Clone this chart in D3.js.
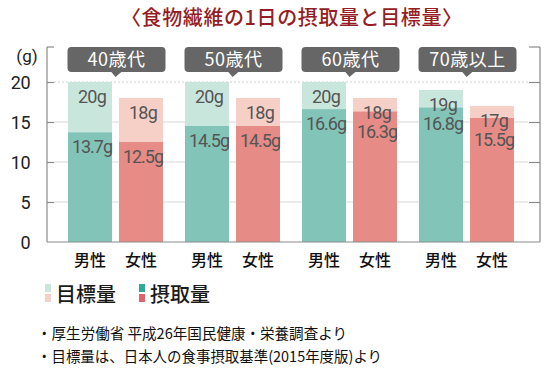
<!DOCTYPE html>
<html><head><meta charset="utf-8">
<script src="https://cdn.jsdelivr.net/npm/d3@7"></script>
<style>
html,body{margin:0;padding:0;background:#fff;}
svg{display:block;}
</style></head>
<body>
<script>
const ageGroups = ["40歳代", "50歳代", "60歳代", "70歳以上"];
const sexes = ["男性", "女性"];
const targetMale = [20, 20, 20, 19];
const targetFemale = [18, 18, 18, 17];
const intakeMale = [13.7, 14.5, 16.6, 16.8];
const intakeFemale = [12.5, 14.5, 16.3, 15.5];
const yTicks = [0, 5, 10, 15, 20];
const titleText = "〈食物繊維の1日の摂取量と目標量〉";
const legendLabels = ["目標量", "摂取量"];
const notes = ["・厚生労働省  平成26年国民健康・栄養調査より", "・目標量は、日本人の食事摂取基準(2015年度版)より"];

const W = 560, H = 373;
const colors = {
  targetM: "#c9e6dc", targetF: "#f6d0c7",
  intakeM: "#82c4b8", intakeF: "#e68b86",
  legIntakeM: "#2fa898", legIntakeF: "#e0636b"
};

const svg = d3.select("body").append("svg").attr("width", W).attr("height", H);

const x0 = d3.scaleBand().domain(ageGroups).range([57, 525]).paddingInner(22/117).paddingOuter(11/117);
const x1 = d3.scaleBand().domain(sexes).range([0, x0.bandwidth()]).paddingInner(7/51);
const y = d3.scaleLinear().domain([0, 20]).range([242, 82]);

const data = [];
ageGroups.forEach((g, i) => {
  data.push({g, s: "男性", target: targetMale[i], intake: intakeMale[i], ct: colors.targetM, ci: colors.intakeM});
  data.push({g, s: "女性", target: targetFemale[i], intake: intakeFemale[i], ct: colors.targetF, ci: colors.intakeF});
});

// title
svg.append("text").attr("x", 121).attr("y", 25)
  .attr("font-family", "'Noto Sans CJK JP'").attr("font-size", 20).attr("font-weight", 500)
  .attr("letter-spacing", 0.6)
  .attr("fill", "#951d24").text(titleText);

// gridlines
const grid = svg.append("g");
yTicks.filter(t => t > 0).forEach(t => {
  grid.append("line").attr("x1", 54).attr("x2", 528).attr("y1", y(t)).attr("y2", y(t))
    .attr("stroke", t === 20 ? "#d0d0d0" : "#d8d8d8").attr("stroke-width", 1)
    .attr("stroke-dasharray", t === 20 ? "2,2" : null);
});

// bars
const bars = svg.append("g");
data.forEach(d => {
  const bx = x0(d.g) + x1(d.s);
  const cx = bx + x1.bandwidth()/2 + 2;
  bars.append("rect").attr("x", bx).attr("width", x1.bandwidth())
    .attr("y", y(d.target)).attr("height", y(0) - y(d.target)).attr("fill", d.ct);
  bars.append("rect").attr("x", bx).attr("width", x1.bandwidth())
    .attr("y", y(d.intake)).attr("height", y(0) - y(d.intake)).attr("fill", d.ci);
  const ty = y(d.target) + 21;
  const iy = Math.max(y(d.intake) + 21, ty + 19);
  bars.append("text").attr("x", cx).attr("y", ty)
    .attr("text-anchor", "middle").attr("font-family", "Roboto").attr("font-size", 18)
    .attr("letter-spacing", -0.8).attr("fill", "#555").text(d.target + "g");
  bars.append("text").attr("x", cx).attr("y", iy)
    .attr("text-anchor", "middle").attr("font-family", "Roboto").attr("font-size", 18)
    .attr("letter-spacing", -1).attr("fill", "#555").text(d.intake + "g");
  svg.append("text").attr("x", bx + x1.bandwidth()/2).attr("y", 266)
    .attr("text-anchor", "middle").attr("font-family", "'Noto Sans CJK JP'").attr("font-size", 16)
    .attr("font-weight", 500).attr("fill", "#111").text(d.s);
});

// axes frame
const axisColor = "#8a8a8a";
const frame = svg.append("g").attr("stroke", axisColor).attr("stroke-width", 1.2).attr("fill", "none");
frame.append("line").attr("x1", 47).attr("x2", 47).attr("y1", 47).attr("y2", y(0));
frame.append("line").attr("x1", 47).attr("x2", 540).attr("y1", y(0)).attr("y2", y(0));
frame.append("line").attr("x1", 540).attr("x2", 540).attr("y1", 47).attr("y2", y(0));
frame.append("line").attr("x1", 47).attr("x2", 54).attr("y1", 47).attr("y2", 47);
frame.append("line").attr("x1", 529).attr("x2", 540).attr("y1", 47).attr("y2", 47);

// left axis ticks + labels via d3 axis
const yAxis = d3.axisLeft(y).tickValues(yTicks).tickSize(-7).tickPadding(17).tickFormat(d3.format("d"));
const ya = svg.append("g").attr("transform", "translate(47,0)").call(yAxis);
ya.select(".domain").remove();
ya.selectAll(".tick line").attr("stroke", axisColor).attr("stroke-width", 1.2);
ya.selectAll(".tick text").attr("font-family", "Roboto").attr("font-size", 18)
  .attr("fill", "#222").attr("dy", "0.36em").attr("letter-spacing", -0.5);
ya.selectAll(".tick").filter(d => d === 0).select("line").remove();

// right ticks
const yAxisR = d3.axisRight(y).tickValues(yTicks.filter(t => t > 0)).tickSize(-11).tickFormat("");
const yr = svg.append("g").attr("transform", "translate(540,0)").call(yAxisR);
yr.select(".domain").remove();
yr.selectAll(".tick line").attr("stroke", axisColor).attr("stroke-width", 1.2);

// unit
svg.append("text").attr("x", 27).attr("y", 62).attr("text-anchor", "middle")
  .attr("font-family", "Roboto").attr("font-size", 17).attr("fill", "#222").text("(g)");

// age group labels
ageGroups.forEach(g => {
  const cx = x0(g) + x0.bandwidth()/2 + 1;
  const bw = 98;
  const lg = svg.append("g");
  lg.append("rect").attr("x", cx - bw/2).attr("y", 47).attr("width", bw).attr("height", 25)
    .attr("rx", 4).attr("fill", "#666");
  lg.append("path").attr("d", `M${cx-6},71 L${cx+6},71 L${cx-1},77 Z`).attr("fill", "#666");
  lg.append("text").attr("x", cx).attr("y", 66).attr("text-anchor", "middle")
    .attr("font-family", "'Noto Sans CJK JP'").attr("font-size", 18).attr("letter-spacing", 0.5)
    .attr("fill", "#fff").text(g);
});

// legend
const leg = svg.append("g");
const legItems = [
  {label: legendLabels[0], top: colors.targetM, bottom: colors.targetF, x: 45},
  {label: legendLabels[1], top: colors.legIntakeM, bottom: colors.legIntakeF, x: 139}
];
legItems.forEach(it => {
  leg.append("rect").attr("x", it.x).attr("y", 284).attr("width", 6).attr("height", 8).attr("fill", it.top);
  leg.append("rect").attr("x", it.x).attr("y", 294).attr("width", 6).attr("height", 8).attr("fill", it.bottom);
  leg.append("text").attr("x", it.x + 11).attr("y", 302).attr("font-family", "'Noto Sans CJK JP'")
    .attr("font-size", 20).attr("font-weight", 500).attr("fill", "#1a1a1a").text(it.label);
});

// notes
const noteWidths = [310, 345];
notes.forEach((n, i) => {
  svg.append("text").attr("x", 37).attr("y", 339 + i * 23).attr("font-family", "'Noto Sans CJK JP'")
    .attr("font-size", 15).attr("fill", "#111")
    .attr("textLength", noteWidths[i]).attr("lengthAdjust", "spacingAndGlyphs").text(n);
});
</script>
</body></html>
